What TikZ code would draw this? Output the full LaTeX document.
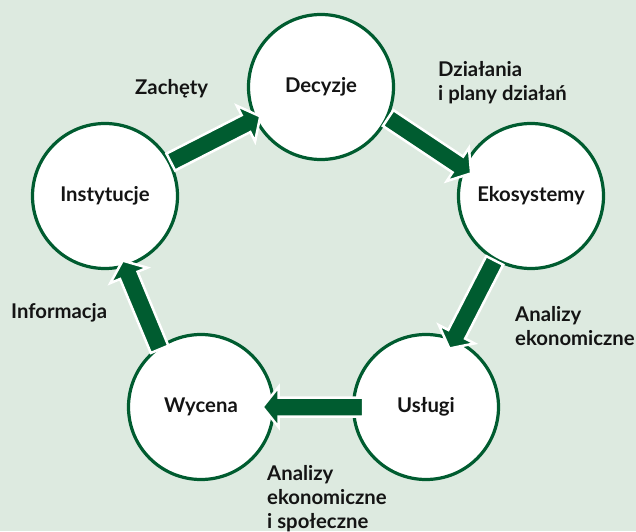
\documentclass[tikz,border=0pt]{standalone}
\usepackage{fontspec}
\setmainfont{Lato}
\usetikzlibrary{calc}

\definecolor{bgmint}{RGB}{221,234,224}
\definecolor{forest}{RGB}{0,92,48}
\definecolor{ink}{RGB}{20,20,20}

% block arrow from a tail coordinate to a tip coordinate
\newcommand\blockarrow[2]{%
  \coordinate (ba-h) at ($(#2)!16pt!(#1)$);
  \filldraw[arrowbody]
    ($(#1)!9.5pt!90:(#2)$) -- ($(ba-h)!9.5pt!90:(#2)$) -- ($(ba-h)!20pt!90:(#2)$)
    -- (#2)
    -- ($(ba-h)!20pt!-90:(#2)$) -- ($(ba-h)!9.5pt!-90:(#2)$) -- ($(#1)!9.5pt!-90:(#2)$)
    -- cycle;
}

\begin{document}
\begin{tikzpicture}[x=1pt,y=1pt,
  stage/.style={circle, draw=forest, line width=3.2pt, fill=white,
    minimum size=145pt, inner sep=0pt, text=ink,
    font=\fontsize{20.3}{24}\selectfont\bfseries},
  tag/.style={anchor=base west, inner sep=0pt, text=ink,
    font=\fontsize{20.3}{24}\selectfont\bfseries},
  arrowbody/.style={fill=forest, draw=white, line width=2.5pt, line join=miter}]

\fill[bgmint] (0,0) rectangle (636,531);
\useasboundingbox (0,0) rectangle (636,531);

% stages of the cycle
\node[stage] (dec)  at (321,444) {Decyzje};
\node[stage] (inst) at (105,335) {Instytucje};
\node[stage] (eko)  at (531,335) {Ekosystemy};
\node[stage] (usl)  at (426,124) {Usługi};
\node[stage] (wyc)  at (201,124) {Wycena};

% arrow end points on the circles
\coordinate (t1) at ($(inst)+(27.3:74)$);
\coordinate (h1) at ($(dec)+(205.8:67.5)$);
\coordinate (t2) at ($(dec)+(-24.8:74)$);
\coordinate (h2) at ($(eko)+(159.3:64)$);
\coordinate (t3) at ($(eko)+(240.6:74)$);
\coordinate (h3) at ($(usl)+(68.2:63)$);
\coordinate (t4) at ($(usl)+(180:63)$);
\coordinate (h4) at ($(wyc)+(0:61.5)$);
\coordinate (t5) at ($(wyc)+(125.7:71)$);
\coordinate (h5) at ($(inst)+(-74.7:67)$);

\blockarrow{t1}{h1}
\blockarrow{t2}{h2}
\blockarrow{t3}{h3}
\blockarrow{t4}{h4}
\blockarrow{t5}{h5}

% labels
\node[tag] (l1) at (135,436) {Zachęty};
\node[tag] (l2) at (438,454) {\begin{tabular}[t]{@{}l@{}}Działania\\ i plany działań\end{tabular}};
\node[tag] (l3) at (515,210) {\begin{tabular}[t]{@{}l@{}}Analizy\\ ekonomiczne\end{tabular}};
\node[tag] (l4) at (267,51) {\begin{tabular}[t]{@{}l@{}}Analizy\\ ekonomiczne\\ i społeczne\end{tabular}};
\node[tag] (l5) at (11,213) {Informacja};
\end{tikzpicture}
\end{document}
